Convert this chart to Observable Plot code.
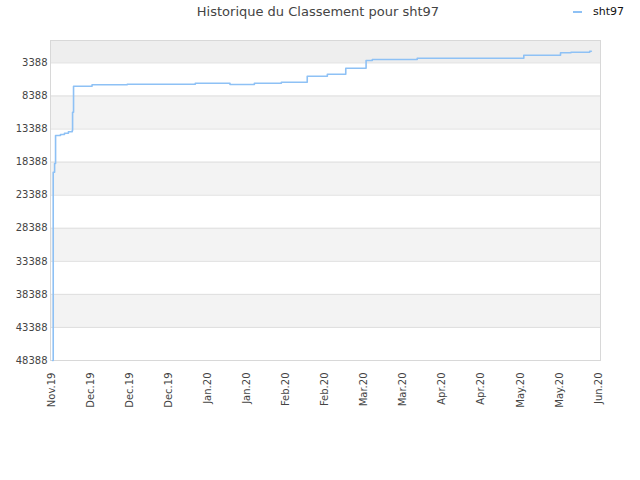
<!DOCTYPE html>
<html><head><meta charset="utf-8">
<script src="https://cdn.jsdelivr.net/npm/d3@7"></script>
<script src="https://cdn.jsdelivr.net/npm/@observablehq/plot@0.6"></script>
<style>
body{margin:0;background:#fff;font-family:"DejaVu Sans",sans-serif;}
#wrap{position:relative;width:640px;height:480px;overflow:hidden;}
#chart{position:absolute;top:0;left:0;}
#title{position:absolute;top:4px;left:0;width:636px;text-align:center;font-size:13px;color:#444;}
#legend{position:absolute;top:5px;left:573px;font-size:11px;color:#111;display:flex;align-items:center;}
#legend .sw{display:inline-block;width:9px;height:2px;background:#8ec1f5;margin-right:11px;}
</style></head><body>
<div id="wrap"><div id="chart"></div>
<div id="title">Historique du Classement pour sht97</div>
<div id="legend"><span class="sw"></span>sht97</div></div>
<script>
const seriesName = "sht97";
const dates = [
  "2019-11-01T10:00","2019-11-01T16:00","2019-11-02T05:00","2019-11-02T14:00",
  "2019-11-04T12:00","2019-11-06T01:00","2019-11-07T14:00","2019-11-09T02:00",
  "2019-11-09T05:00","2019-11-09T14:00","2019-11-16T19:00","2019-11-30T12:00",
  "2019-12-27T00:00","2020-01-09T12:00","2020-01-19T00:00","2020-01-29T12:00",
  "2020-02-08T14:00","2020-02-16T10:00","2020-02-23T14:00","2020-03-02T12:00",
  "2020-03-04T22:00","2020-03-22T10:00","2020-05-02T22:00","2020-05-17T05:00",
  "2020-05-21T07:00","2020-05-28T14:00","2020-05-29T05:00"
];
const ranks = [
  48388, 19914, 18599, 14365,
  14214, 14017, 13805, 13609,
  10842, 6911, 6700, 6608,
  6457, 6654, 6457, 6306,
  5399, 5096, 4189, 3025,
  2874, 2677, 2224, 1861,
  1770, 1619, 1619
];
const yTicks = [3388, 8388, 13388, 18388, 23388, 28388, 33388, 38388, 43388, 48388];
const xTickLabels = ["Nov.19","Dec.19","Dec.19","Dec.19","Jan.20","Jan.20","Feb.20","Feb.20","Mar.20","Mar.20","Apr.20","Apr.20","May.20","May.20","Jun.20"];
const bandFrom = [1, 8388, 18388, 28388, 38388];
const bandTo = [3388, 13388, 23388, 33388, 43388];
const xStart = new Date("2019-11-01T00:00");
const xEnd = new Date("2020-06-01T00:00");

const xTicks = xTickLabels.map((_, i) => new Date(+xStart + i * (xEnd - xStart) / (xTickLabels.length - 1)));
const labelByTime = new Map(xTicks.map((d, i) => [+d, xTickLabels[i]]));
const idx = d3.range(dates.length);
const bandIdx = d3.range(bandFrom.length);

const chart = Plot.plot({
  width: 640, height: 480,
  marginLeft: 50, marginRight: 40, marginTop: 40, marginBottom: 120,
  style: {fontFamily: "DejaVu Sans, sans-serif", background: "transparent"},
  x: {type: "time", domain: [xStart, xEnd], insetLeft: 1, insetRight: 2},
  y: {domain: [48388, 1]},
  marks: [
    Plot.rect(bandIdx.slice(0, 1), {y1: i => bandFrom[i], y2: i => bandTo[i], fill: "#eeeeee"}),
    Plot.rect(bandIdx.slice(1), {y1: i => bandFrom[i], y2: i => bandTo[i], fill: "#f3f3f3"}),
    Plot.gridY(yTicks, {stroke: "#dedede", strokeOpacity: 1}),
    Plot.frame({stroke: "#d8d8d8"}),
    Plot.axisY(yTicks, {tickSize: 0, tickPadding: 3, tickFormat: d => String(d), fontSize: 10, fill: "#444"}),
    Plot.axisX(xTicks, {tickSize: 0, tickPadding: 12, tickRotate: -90, tickFormat: d => labelByTime.get(+d), fontSize: 10, fill: "#444"}),
    Plot.line(idx, {x: i => new Date(dates[i]), y: i => ranks[i], curve: "step-after", stroke: "#8ec1f5", strokeWidth: 1.6})
  ]
});
document.getElementById("chart").appendChild(chart);
</script>
</body></html>
